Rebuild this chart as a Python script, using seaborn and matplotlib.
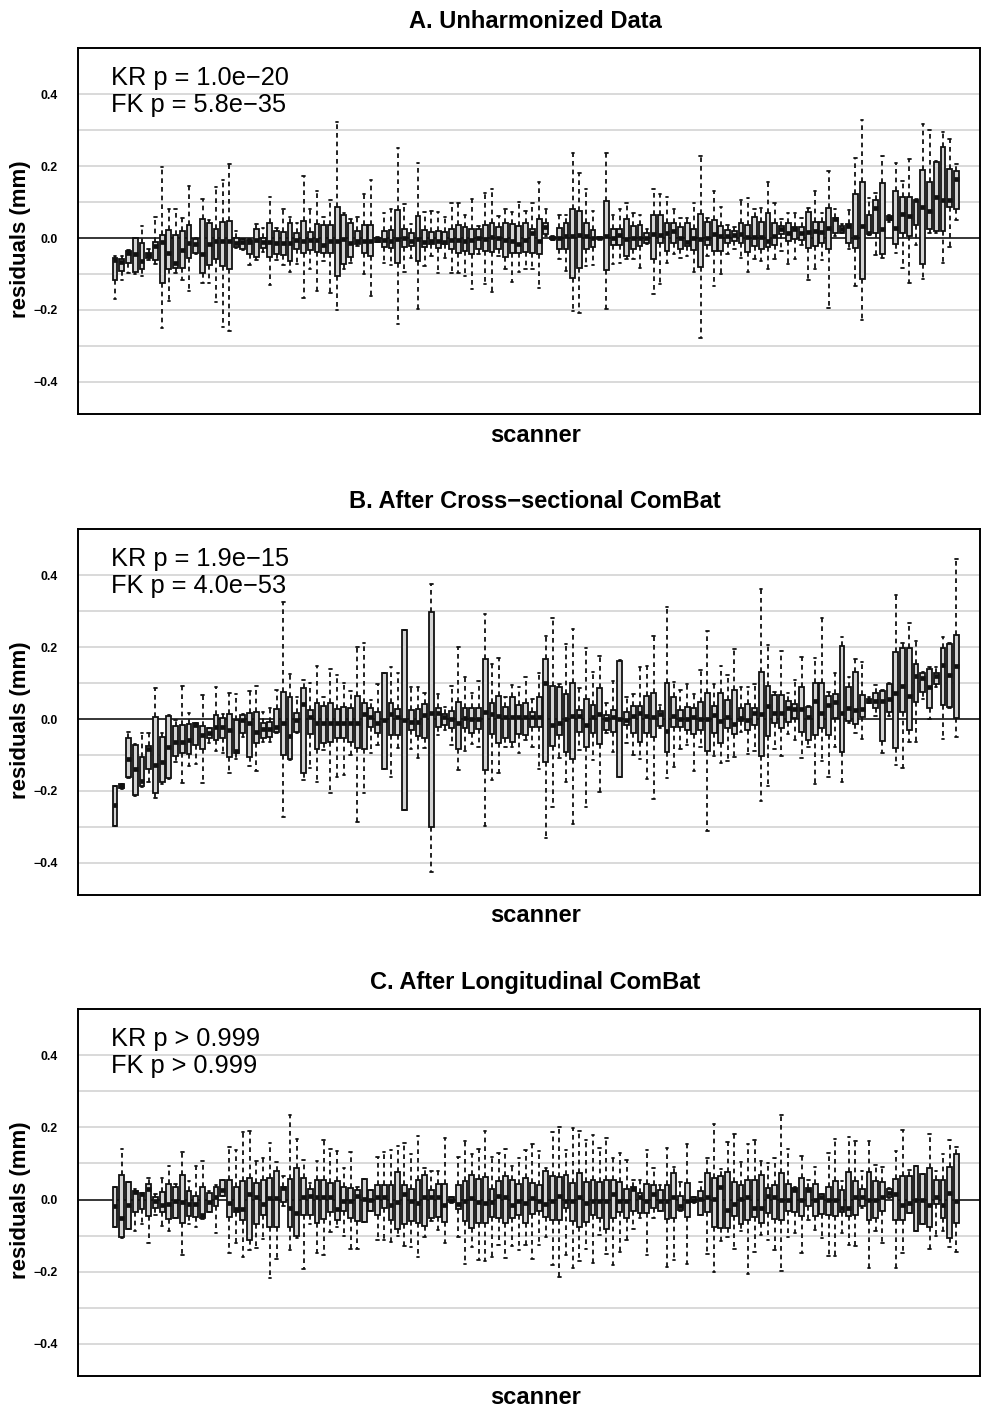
import numpy as np
import pandas as pd
import matplotlib
matplotlib.use("Agg")
import matplotlib.pyplot as plt
import seaborn as sns

# Box summaries per scanner, in units of 0.001 mm:
# whisker low, first quartile, median, third quartile, whisker high

# Panel A - unharmonized
a_lo = [-170, -117, -98, -100, -106, -60, -73, -249, -175, -96, -117, -147, -45, -124, -124, -178, -246, -258, -27, -33,
        -76, -60, -40, -131, -60, -76, -94, -73, -166, -85, -147, -64, -152, -200, -85, -69, -22, -101, -161, -12,
        -70, -76, -240, -94, -55, -198, -78, -50, -96, -55, -98, -96, -106, -141, -45, -129, -150, -50, -85, -122,
        -94, -87, -85, -138, 5, -5, -59, -92, -203, -207, -78, -76, -4, -198, -73, -70, -59, -57, -82, -18,
        -156, -129, -70, -45, -55, -50, -94, -277, -50, -133, -101, -45, -30, -55, -94, -59, -64, -87, -57, -36,
        -73, -57, -20, -117, -87, -61, -194, 6, 13, -31, -133, -228, 7, -48, -55, 45, -41, -82, -126, -20,
        -115, 13, 13, -70, -24, 50]
a_q1 = [-117, -92, -70, -94, -85, -55, -61, -126, -85, -82, -82, -55, -41, -98, -76, -57, -78, -87, -24, -31,
        -45, -54, -27, -52, -45, -48, -64, -30, -41, -33, -39, -43, -43, -106, -73, -52, -18, -43, -50, -10,
        -24, -27, -69, -24, -22, -64, -24, -18, -27, -18, -31, -41, -36, -45, -30, -36, -39, -30, -52, -43,
        -43, -39, -43, -45, 10, -3, -31, -31, -110, -82, -30, -24, -3, -89, -20, -20, -50, -30, -22, -13,
        -59, -15, -36, -15, -30, -22, -33, -80, -20, -36, -36, -13, -8, -15, -39, -22, -30, -24, -20, 10,
        -8, -4, -6, -27, -22, -15, -30, 13, 15, -15, -27, -115, 10, 15, -45, 50, -18, 13, 6, 35,
        -73, 26, 19, 19, 87, 80]
a_med = [-61, -67, -43, -45, -64, -48, -22, -11, -43, -70, -34, -13, -18, -45, -18, -7, -7, -7, -13, -11,
         -11, -6, -11, -11, -13, -13, -13, -6, -8, -6, -6, -20, -8, -8, -4, -13, -8, -8, -8, -5,
         -6, -8, -4, 1, -8, -2, -11, -8, -8, -11, -6, -6, -8, -6, 1, -4, 4, 1, -6, -8,
         -18, -6, 13, -8, 30, 0, 1, 6, 6, 7, 6, 1, 0, 6, 1, 7, -2, 1, 1, 1,
         10, 7, 13, 19, 1, -11, 1, -4, 1, 10, 6, 6, 7, 10, 4, 4, 4, -8, 6, 26,
         13, 26, 13, 17, 19, 17, 29, 52, 24, 33, 4, 33, 15, 84, 26, 56, 29, 66, 61, 106,
         87, 75, 115, 107, 106, 165]
a_q3 = [-55, -59, -36, 0, -15, -41, -11, 7, 21, 7, 19, 35, -4, 54, 43, 26, 44, 48, 1, -4,
        -6, 26, 1, 43, 20, 17, 43, 15, 47, 17, 40, 35, 35, 86, 63, 41, 19, 35, 35, 0,
        19, 22, 78, 24, 15, 61, 22, 17, 19, 17, 24, 35, 31, 26, 24, 35, 43, 31, 43, 38,
        33, 41, 26, 54, 43, 3, 29, 41, 81, 75, 43, 22, 3, 103, 26, 24, 54, 33, 35, 13,
        63, 63, 41, 41, 31, 43, 26, 66, 44, 50, 33, 22, 19, 43, 35, 59, 44, 69, 41, 33,
        43, 31, 31, 72, 44, 44, 84, 56, 33, 38, 121, 156, 63, 106, 154, 61, 131, 115, 115, 107,
        189, 156, 211, 254, 193, 186]
a_hi = [-50, -50, -32, 0, 33, -30, 59, 198, 81, 81, 56, 144, 0, 109, 49, 143, 161, 205, 19, -2,
        -4, 38, 29, 115, 29, 81, 59, 43, 172, 80, 132, 59, 107, 322, 70, 52, 59, 121, 161, 4,
        70, 81, 251, 94, 38, 209, 72, 75, 72, 59, 96, 96, 63, 109, 33, 126, 137, 61, 81, 72,
        100, 75, 98, 156, 80, 5, 63, 63, 235, 180, 135, 75, 4, 237, 63, 80, 98, 69, 63, 26,
        135, 121, 115, 81, 56, 56, 96, 228, 56, 131, 87, 35, 31, 106, 112, 81, 84, 156, 96, 52,
        69, 69, 56, 84, 131, 69, 186, 81, 38, 78, 223, 328, 112, 126, 228, 63, 209, 158, 220, 107,
        316, 300, 215, 294, 276, 205]

# Panel B - after cross-sectional ComBat
b_lo = [-296, -194, -165, -213, -188, -174, -220, -181, -167, -119, -179, -131, -125, -177, -66, -88, -95, -151, -112, -49,
        -131, -144, -63, -63, -40, -271, -114, -40, -169, -137, -174, -86, -206, -162, -156, -100, -285, -206, -95, -72,
        -140, -162, -81, -253, -84, -109, -81, -424, -44, -31, -72, -142, -88, -69, -79, -297, -169, -149, -79, -79,
        -94, -58, -77, -140, -331, -245, -109, -174, -292, -86, -245, -114, -202, -38, -91, -162, -66, -100, -112, -168,
        -223, -25, -165, -132, -84, -72, -144, -77, -310, -103, -121, -116, -106, -35, -97, -88, -227, -186, -84, -103,
        -42, -58, -109, -79, -181, -116, -162, -79, -174, -10, -38, -56, 44, 8, -94, 8, -128, -137, -63, -63,
        57, -1, 88, -56, 32, -51]
b_q1 = [-296, -193, -162, -211, -186, -140, -205, -174, -165, -103, -94, -97, -72, -84, -54, -58, -54, -106, -94, -40,
        -106, -66, -54, -49, -35, -100, -112, -35, -149, -42, -84, -68, -63, -54, -54, -63, -81, -84, -21, -38,
        -140, -44, -44, -253, -31, -47, -54, -299, -21, -17, -26, -84, -26, -38, -29, -142, -42, -66, -54, -63,
        -42, -44, -21, -21, -119, -75, -44, -91, -112, -35, -77, -38, -69, -31, -35, -160, -17, -38, -63, -38,
        -51, -19, -91, -21, -21, -31, -42, -31, -88, -38, -66, -26, -42, -5, -31, -17, -103, -47, -10, -26,
        -7, 2, -35, -58, -44, -26, -44, 2, -91, -5, -14, 6, 44, 30, -60, 20, -81, 20, -31, 48,
        76, 32, 97, 39, 34, 2]
b_med = [-239, -187, -112, -140, -171, -84, -128, -119, -77, -63, -63, -58, -17, -44, -40, -21, -23, -31, -88, -3,
         -12, -35, -29, -29, -21, -12, -47, -3, 42, 6, -12, -12, -10, -12, -10, -12, -10, 14, 6, -10,
         -3, 14, 5, -3, -7, -7, 11, 18, 16, 6, -1, -10, 2, -1, -1, 20, 14, 8, 6, 6,
         5, 6, 6, 6, 99, -17, -12, -1, 8, 8, -17, 6, 14, -1, 6, -1, -3, 8, 16, 8,
         6, 14, -32, 8, -1, -1, 6, -1, -1, 11, -5, 5, -14, 2, -3, 16, 14, 36, 16, 16,
         30, 27, 27, 5, 51, 16, 39, 48, 16, 32, 25, 27, 51, 51, 51, 57, 73, 92, 64, 119,
         113, 90, 119, 150, 122, 147]
b_q3 = [-186, -181, -54, -72, -105, -75, 6, -49, 8, -19, -17, -14, -12, -19, -26, 11, 2, 14, -3, 11,
        16, 20, -10, -7, 27, 76, 60, 16, 85, 25, 45, 36, 45, 27, 34, 30, 64, 45, 32, 20,
        127, 44, 27, 247, 25, 27, 42, 298, 30, 14, 23, 48, 30, 30, 30, 166, 45, 64, 34, 60,
        39, 45, 20, 62, 166, 92, 88, 69, 101, 25, 57, 39, 85, 11, 25, 162, 20, 36, 36, 64,
        73, 23, 99, 62, 25, 34, 30, 48, 73, 36, 71, 53, 81, 32, 42, 30, 131, 92, 67, 67,
        51, 42, 88, 34, 101, 101, 64, 69, 203, 88, 131, 67, 55, 71, 79, 97, 187, 196, 196, 153,
        127, 138, 129, 196, 208, 233]
b_hi = [-186, -180, -35, -70, -38, -40, 85, -38, 10, -3, 92, 18, -10, 67, -24, 88, 14, 71, 69, 14,
        79, 92, 20, 30, 81, 326, 125, 60, 108, 99, 147, 60, 138, 122, 101, 79, 199, 212, 53, 97,
        127, 144, 129, 247, 88, 88, 73, 375, 69, 34, 92, 199, 116, 73, 106, 292, 153, 169, 60, 94,
        88, 116, 55, 129, 231, 282, 97, 208, 249, 85, 196, 131, 175, 45, 106, 165, 60, 69, 144, 147,
        231, 40, 312, 104, 82, 97, 69, 136, 245, 97, 147, 122, 194, 90, 88, 97, 360, 206, 76, 190,
        73, 108, 171, 36, 169, 280, 76, 129, 229, 116, 166, 159, 62, 94, 81, 100, 344, 212, 268, 218,
        131, 144, 144, 227, 210, 446]

# Panel C - after longitudinal ComBat
c_lo = [-75, -106, -81, -88, -68, -121, -44, -72, -88, -51, -153, -69, -75, -54, -35, -94, 11, -149, -121, -158,
        -140, -134, -109, -218, -165, -17, -140, -106, -193, -69, -149, -153, -91, -75, -100, -137, -137, -63, -31, -112,
        -112, -119, -100, -128, -132, -160, -105, -60, -84, -121, -9, -103, -179, -131, -168, -171, -158, -125, -162, -128,
        -140, -125, -165, -125, -105, -181, -214, -153, -190, -169, -137, -177, -97, -151, -181, -144, -112, -81, -51, -153,
        -51, -31, -186, -168, -31, -179, -9, -44, -151, -202, -114, -103, -137, -88, -205, -144, -97, -112, -140, -199,
        -103, -94, -149, -56, -84, -106, -156, -156, -94, -125, -128, -23, -190, -86, -121, 5, -190, -149, -38, -88,
        -68, -137, -100, -86, -131, -144]
c_q1 = [-75, -105, -81, -35, -26, -47, -23, -35, -54, -51, -66, -47, -49, -51, -35, -19, 11, -49, -35, -58,
        -112, -68, -44, -75, -75, -7, -77, -100, -42, -42, -66, -54, -35, -56, -32, -51, -60, -63, -31, -44,
        -23, -56, -81, -68, -60, -66, -72, -51, -49, -63, -7, -26, -60, -79, -66, -66, -49, -51, -66, -51,
        -44, -66, -40, -31, -49, -56, -56, -23, -60, -75, -63, -44, -51, -81, -51, -35, -51, -31, -38, -38,
        -23, -31, -54, -51, -29, -49, -7, -44, -35, -77, -79, -79, -47, -68, -56, -49, -66, -38, -54, -58,
        -32, -35, -47, -19, -47, -40, -42, -47, -35, -47, -44, -19, -58, -51, -32, 6, -58, -56, -38, -88,
        -68, -75, -12, -51, -106, -66]
c_med = [-17, -51, -14, 20, 14, 30, -3, -14, -12, -3, -7, -12, -12, -44, -7, 6, 27, -10, -26, -26,
         16, 6, -12, 5, 5, 32, -23, -38, 6, 11, 6, 6, 6, -26, -3, -3, 11, 2, -1, 6,
         6, -14, -7, 16, -3, -10, 6, 6, 6, -14, 0, -12, -3, 5, -7, -10, -7, 11, 8, -14,
         -3, -10, 5, -3, -12, -3, 11, -3, -3, 6, -10, -3, -3, -3, 16, -3, -3, 30, 6, -3,
         14, -5, -3, 6, -19, -3, -1, 2, 6, 2, 36, -29, -12, 2, 6, -23, -23, 11, 8, -1,
         -1, 27, -1, 27, -1, 8, -1, -1, -23, -23, 6, 6, -1, -1, 6, 18, 14, -14, -10, -1,
         -1, -14, 6, -14, 18, -3]
c_q3 = [36, 69, 48, 25, 18, 44, 6, 20, 42, 36, 67, 25, 11, 36, 18, 34, 55, 55, 36, 51,
        60, 45, 53, 60, 79, 36, 57, 88, 60, 30, 55, 53, 45, 51, 34, 32, 27, 57, 27, 39,
        39, 39, 76, 39, 30, 53, 67, 27, 42, 42, 6, 39, 51, 69, 57, 62, 30, 51, 64, 55,
        44, 60, 45, 39, 79, 64, 62, 69, 45, 73, 48, 55, 48, 55, 55, 48, 30, 36, 18, 44,
        39, 27, 39, 73, 11, 45, 6, 23, 73, 60, 64, 76, 48, 39, 53, 55, 67, 32, 39, 73,
        44, 32, 60, 32, 42, 14, 36, 51, 27, 76, 51, 30, 76, 51, 48, 30, 57, 64, 64, 92,
        71, 88, 53, 53, 90, 125]
c_hi = [36, 141, 48, 30, 18, 60, 14, 60, 92, 42, 131, 51, 92, 106, 25, 39, 55, 145, 138, 187,
        190, 108, 116, 156, 104, 64, 233, 169, 110, 45, 106, 166, 141, 134, 88, 131, 36, 57, 27, 119,
        131, 136, 147, 156, 127, 175, 88, 79, 79, 171, 8, 118, 162, 127, 141, 190, 119, 129, 141, 94,
        116, 138, 155, 134, 88, 187, 201, 138, 199, 190, 164, 178, 144, 171, 116, 129, 110, 53, 53, 138,
        88, 39, 144, 90, 48, 155, 8, 48, 116, 210, 85, 159, 182, 104, 153, 166, 106, 101, 116, 233,
        141, 35, 122, 53, 90, 14, 129, 169, 51, 173, 162, 79, 162, 97, 90, 32, 134, 194, 82, 92,
        71, 182, 79, 125, 166, 145]

titles = ["A. Unharmonized Data", "B. After Cross\u2212sectional ComBat", "C. After Longitudinal ComBat"]
pvals = [["KR p = 1.0e\u221220", "FK p = 5.8e\u221235"],
         ["KR p = 1.9e\u221215", "FK p = 4.0e\u221253"],
         ["KR p > 0.999", "FK p > 0.999"]]
yticks = [-0.4, -0.2, 0.0, 0.2, 0.4]
ytick_labels = ["\u22120.4", "\u22120.2", "0.0", "0.2", "0.4"]
grid_levels = [-0.4, -0.3, -0.2, -0.1, 0.1, 0.2, 0.3, 0.4]


def long_frame(lo, q1, med, q3, hi):
    # five points per scanner reproduce the quartiles exactly
    rows = []
    for i, vals in enumerate(zip(lo, q1, med, q3, hi)):
        for v in sorted(vals):
            rows.append((i, v / 1000.0))
    return pd.DataFrame(rows, columns=["scanner", "residual"])


sns.set_style("white")
plt.rcParams["font.family"] = ["Liberation Sans", "DejaVu Sans"]
plt.rcParams["text.color"] = "black"
plt.rcParams["axes.labelcolor"] = "black"
plt.rcParams["ytick.color"] = "black"

W, H = 981, 1406
fig = plt.figure(figsize=(W / 100, H / 100), dpi=100)

# axes frames in pixels: (top, bottom)
frames = [(48, 414), (529, 895), (1009, 1376)]
x0, x1 = 78, 980

data = [(a_lo, a_q1, a_med, a_q3, a_hi),
        (b_lo, b_q1, b_med, b_q3, b_hi),
        (c_lo, c_q1, c_med, c_q3, c_hi)]

for k, (top, bot) in enumerate(frames):
    ax = fig.add_axes([x0 / W, 1 - bot / H, (x1 - x0) / W, (bot - top) / H])
    df = long_frame(*data[k])
    n = len(data[k][0])

    for g in grid_levels:
        ax.axhline(g, color="#d9d9d9", lw=1.4, zorder=0)
    ax.axhline(0, color="black", lw=1.1, zorder=0.5)

    sns.boxplot(data=df, x="scanner", y="residual", order=list(range(n)),
                whis=(0, 100), width=0.72, color="#d3d3d3", saturation=1,
                linecolor="#111111", linewidth=1.3, fliersize=0, ax=ax,
                medianprops={"linewidth": 3.4, "solid_capstyle": "butt"},
                whiskerprops={"linestyle": (0, (2.6, 2.2)), "linewidth": 1.3},
                capprops={"linewidth": 1.3})

    ax.set_xlim(-5.5, 128.5)
    ax.set_ylim(-0.489, 0.528)
    ax.set_xticks([])
    ax.set_yticks(yticks)
    ax.set_yticklabels(ytick_labels, fontweight="bold", fontsize=8.8)
    ax.tick_params(axis="y", length=0, pad=14.5)
    ax.set_xlabel("")
    ax.set_ylabel("")
    for s in ax.spines.values():
        s.set_visible(True)
        s.set_color("black")
        s.set_linewidth(1.4)

    hgt = bot - top
    ax.text((111 - x0) / (x1 - x0), 1 - 30 / hgt, pvals[k][0], transform=ax.transAxes,
            fontsize=18.3, va="center", ha="left")
    ax.text((111 - x0) / (x1 - x0), 1 - 57 / hgt, pvals[k][1], transform=ax.transAxes,
            fontsize=18.3, va="center", ha="left")

    fig.text(535 / W, 1 - (top - 27) / H, titles[k], ha="center", va="center",
             fontsize=17, fontweight="bold")
    fig.text(536 / W, 1 - (bot + 21) / H, "scanner", ha="center", va="center",
             fontsize=17, fontweight="bold")
    fig.text(21 / W, 1 - (top + 191) / H, "residuals (mm)", ha="center", va="center",
             rotation=90, fontsize=16, fontweight="bold")

fig.savefig("out.png", dpi=100)
